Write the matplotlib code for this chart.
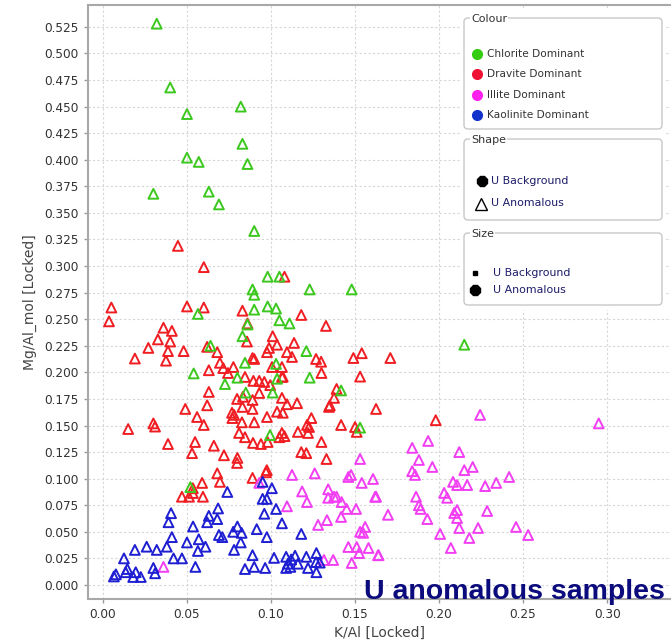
import matplotlib
matplotlib.use("Agg")
import matplotlib.pyplot as plt
import numpy as np
from matplotlib.patches import FancyBboxPatch, Rectangle

# K/Al vs Mg/Al_mol for U anomalous samples, by dominant mineral
chlorite = [
    (0.032, 0.528), (0.040, 0.468), (0.050, 0.443), (0.082, 0.450), (0.050, 0.402),
    (0.057, 0.398), (0.083, 0.415), (0.086, 0.396), (0.030, 0.368), (0.063, 0.370),
    (0.069, 0.358), (0.090, 0.333), (0.098, 0.290), (0.105, 0.290), (0.123, 0.278),
    (0.148, 0.278), (0.089, 0.278), (0.090, 0.273), (0.0565, 0.255), (0.090, 0.259),
    (0.098, 0.262), (0.103, 0.260), (0.105, 0.249), (0.111, 0.246), (0.086, 0.245),
    (0.083, 0.234), (0.064, 0.225), (0.121, 0.220), (0.054, 0.199), (0.0845, 0.209),
    (0.103, 0.208), (0.0726, 0.189), (0.080, 0.195), (0.1036, 0.194), (0.123, 0.195),
    (0.085, 0.181), (0.101, 0.181), (0.1417, 0.183), (0.0994, 0.141), (0.153, 0.148),
    (0.052, 0.092), (0.215, 0.226),
]

dravite = [
    (0.005, 0.261), (0.0036, 0.248), (0.036, 0.242), (0.041, 0.239), (0.050, 0.262),
    (0.060, 0.261), (0.0327, 0.231), (0.040, 0.229), (0.027, 0.223), (0.0387, 0.220),
    (0.048, 0.220), (0.019, 0.213), (0.0375, 0.211), (0.0446, 0.319), (0.060, 0.299),
    (0.083, 0.258), (0.086, 0.246), (0.108, 0.290), (0.118, 0.254), (0.1327, 0.2437),
    (0.062, 0.224), (0.068, 0.219), (0.063, 0.202), (0.0696, 0.209), (0.0716, 0.204),
    (0.0776, 0.205), (0.0857, 0.229), (0.0976, 0.219), (0.101, 0.234), (0.1036, 0.226),
    (0.1095, 0.219), (0.089, 0.2135), (0.0895, 0.192), (0.093, 0.192), (0.096, 0.191),
    (0.0995, 0.188), (0.107, 0.196), (0.1006, 0.205), (0.1065, 0.205), (0.0988, 0.223),
    (0.1137, 0.2277), (0.1125, 0.2145), (0.1268, 0.2126), (0.1298, 0.210), (0.149, 0.2135),
    (0.154, 0.218), (0.171, 0.2135), (0.153, 0.196), (0.130, 0.1994), (0.090, 0.2126),
    (0.0744, 0.1994), (0.0845, 0.1957), (0.1065, 0.1957), (0.063, 0.1816), (0.062, 0.169),
    (0.049, 0.1656), (0.0798, 0.175), (0.0833, 0.177), (0.078, 0.160), (0.083, 0.1675),
    (0.089, 0.174), (0.093, 0.1806), (0.0827, 0.153), (0.077, 0.157), (0.090, 0.153),
    (0.0976, 0.158), (0.1036, 0.163), (0.107, 0.162), (0.056, 0.158), (0.060, 0.1505),
    (0.081, 0.143), (0.0845, 0.139), (0.0893, 0.1336), (0.094, 0.1326), (0.098, 0.1345),
    (0.105, 0.139), (0.0548, 0.1345), (0.053, 0.124), (0.066, 0.131), (0.072, 0.122),
    (0.080, 0.1195), (0.0798, 0.1148), (0.068, 0.105), (0.0696, 0.097), (0.059, 0.096),
    (0.089, 0.1007), (0.097, 0.106), (0.0535, 0.0865), (0.047, 0.083), (0.0512, 0.083),
    (0.0595, 0.083), (0.0535, 0.091), (0.1065, 0.176), (0.1095, 0.170), (0.1155, 0.171),
    (0.1345, 0.1675), (0.1375, 0.176), (0.139, 0.1844), (0.1625, 0.1656), (0.0768, 0.162),
    (0.089, 0.1656), (0.124, 0.157), (0.1214, 0.1505), (0.1417, 0.1505), (0.150, 0.1486),
    (0.116, 0.144), (0.122, 0.143), (0.1065, 0.143), (0.108, 0.140), (0.1226, 0.1486),
    (0.118, 0.125), (0.121, 0.124), (0.130, 0.1345), (0.133, 0.1185), (0.151, 0.144),
    (0.198, 0.155), (0.015, 0.1467), (0.030, 0.152), (0.031, 0.149), (0.0387, 0.1326),
    (0.135, 0.169), (0.0975, 0.108),
]

illite = [
    (0.2244, 0.160), (0.295, 0.152), (0.1935, 0.1355), (0.184, 0.129), (0.188, 0.1176),
    (0.212, 0.125), (0.196, 0.111), (0.184, 0.107), (0.1857, 0.1035), (0.215, 0.108),
    (0.220, 0.111), (0.2417, 0.1016), (0.2083, 0.097), (0.2107, 0.094), (0.2167, 0.094),
    (0.2274, 0.093), (0.234, 0.096), (0.1607, 0.0997), (0.154, 0.096), (0.1625, 0.083),
    (0.1863, 0.083), (0.203, 0.0866), (0.2048, 0.082), (0.188, 0.075), (0.189, 0.0715),
    (0.2107, 0.0705), (0.209, 0.0677), (0.2107, 0.063), (0.193, 0.062), (0.2286, 0.0696),
    (0.1696, 0.066), (0.156, 0.0546), (0.1548, 0.049), (0.2006, 0.048), (0.212, 0.0536),
    (0.2232, 0.0536), (0.2458, 0.0546), (0.253, 0.047), (0.218, 0.0442), (0.207, 0.0348),
    (0.158, 0.0348), (0.164, 0.028), (0.093, 0.096), (0.1125, 0.1035), (0.126, 0.105),
    (0.1185, 0.088), (0.1214, 0.078), (0.1095, 0.074), (0.134, 0.090), (0.134, 0.082),
    (0.1375, 0.083), (0.139, 0.083), (0.142, 0.078), (0.145, 0.0715), (0.1506, 0.0715),
    (0.1417, 0.064), (0.1476, 0.1035), (0.146, 0.1016), (0.153, 0.1185), (0.162, 0.083),
    (0.128, 0.0565), (0.1333, 0.061), (0.153, 0.050), (0.146, 0.0357), (0.151, 0.0357),
    (0.1524, 0.030), (0.148, 0.0207), (0.1315, 0.0235), (0.137, 0.0235), (0.1637, 0.028),
    (0.036, 0.017),
]

kaolinite = [
    (0.0065, 0.008), (0.0077, 0.010), (0.0125, 0.025), (0.0135, 0.012), (0.0145, 0.015),
    (0.018, 0.0075), (0.0195, 0.012), (0.0225, 0.0075), (0.019, 0.033), (0.026, 0.036),
    (0.032, 0.033), (0.030, 0.016), (0.031, 0.011), (0.038, 0.036), (0.041, 0.045),
    (0.039, 0.059), (0.0405, 0.0675), (0.042, 0.025), (0.047, 0.025), (0.050, 0.040),
    (0.0536, 0.055), (0.055, 0.017), (0.0565, 0.032), (0.057, 0.043), (0.061, 0.036),
    (0.062, 0.059), (0.063, 0.065), (0.068, 0.062), (0.0685, 0.072), (0.069, 0.047),
    (0.071, 0.045), (0.074, 0.0875), (0.078, 0.033), (0.0775, 0.050), (0.080, 0.055),
    (0.0825, 0.049), (0.082, 0.040), (0.0845, 0.015), (0.089, 0.028), (0.090, 0.017),
    (0.0965, 0.016), (0.0915, 0.0525), (0.0975, 0.045), (0.096, 0.067), (0.095, 0.081),
    (0.0975, 0.081), (0.1005, 0.091), (0.095, 0.097), (0.103, 0.0715), (0.1065, 0.058),
    (0.118, 0.048), (0.1018, 0.0255), (0.109, 0.0265), (0.110, 0.020), (0.1115, 0.017),
    (0.109, 0.016), (0.1143, 0.0275), (0.121, 0.0265), (0.127, 0.030), (0.1268, 0.0215),
    (0.122, 0.016), (0.127, 0.012), (0.129, 0.021), (0.112, 0.024), (0.116, 0.020),
]

groups = [
    ("Dravite Dominant", dravite, "#f01e23"),
    ("Chlorite Dominant", chlorite, "#3cc81e"),
    ("Illite Dominant", illite, "#f23ef2"),
    ("Kaolinite Dominant", kaolinite, "#1e1ed2"),
]
legend_colours = [("Chlorite Dominant", "#33cc11"), ("Dravite Dominant", "#ee1133"),
                  ("Illite Dominant", "#ff22ee"), ("Kaolinite Dominant", "#1133cc")]

W, H = 671, 644
fig = plt.figure(figsize=(W / 100, H / 100), dpi=100)
ax = fig.add_axes([88 / W, 1 - 599 / H, (W - 88) / W, (599 - 5) / H])

for name, pts, col in groups:
    p = np.array(pts)
    ax.scatter(p[:, 0], p[:, 1], marker="^", s=50, facecolors="none",
               edgecolors=col, linewidths=1.4, zorder=3)

ax.set_xlim(-0.0089, 0.338)
ax.set_ylim(-0.0132, 0.5456)
ax.set_xticks(np.arange(0, 0.301, 0.05))
ax.set_yticks(np.arange(0, 0.526, 0.025))
ax.xaxis.set_major_formatter(matplotlib.ticker.FormatStrFormatter("%.2f"))
ax.yaxis.set_major_formatter(matplotlib.ticker.FormatStrFormatter("%.3f"))
ax.tick_params(labelsize=8.7, labelcolor="#333333", color="#9a9a9a", length=3, width=1)
ax.grid(True, color="#d6d6d6", linestyle=(0, (2, 2)), linewidth=0.8, zorder=0)
ax.set_axisbelow(True)
for side in ["left", "bottom", "top"]:
    ax.spines[side].set_color("#a8a8a8")
    ax.spines[side].set_linewidth(1.5)
ax.spines["right"].set_visible(False)

ax.set_xlabel("K/Al [Locked]", fontsize=10, color="#444444")
ax.set_ylabel("Mg/Al_mol [Locked]", fontsize=10, color="#444444")
ax.xaxis.label.set_va("center")
ax.yaxis.label.set_va("center")
ax.xaxis.set_label_coords(0.5, -0.057)
ax.yaxis.set_label_coords(-0.0995, 0.5)

# overlay in pixel units for the legend panel and caption
ov = fig.add_axes([0, 0, 1, 1], zorder=5)
ov.set_xlim(0, W)
ov.set_ylim(H, 0)
ov.axis("off")
ov.patch.set_alpha(0)

ov.add_patch(Rectangle((461, 8), 203, 302, facecolor="white", edgecolor="none"))

def group_box(top, bottom, title):
    ov.add_patch(FancyBboxPatch((464, top), 198, bottom - top,
                                boxstyle="round,pad=0,rounding_size=4",
                                facecolor="white", edgecolor="#c8c8c8", linewidth=1))
    ov.text(471, top + 1, title, fontsize=8, color="#333333", va="center", ha="left",
            bbox=dict(facecolor="white", edgecolor="none", pad=0.5))

group_box(18, 129, "Colour")
for i, (label, col) in enumerate(legend_colours):
    yy = 54 + i * 20.3
    ov.plot([477], [yy], marker="o", ms=7, color=col, mec=col)
    ov.text(487, yy, label, fontsize=7.6, color="#333333", va="center", ha="left")

group_box(139, 220, "Shape")
ov.plot([482], [181], marker="8", ms=8.5, color="black")
ov.text(491, 181, "U Background", fontsize=7.9, color="#1c1c6a", va="center", ha="left")
ov.plot([481], [204], marker="^", ms=8, mfc="none", mec="black", mew=1)
ov.text(491, 203, "U Anomalous", fontsize=7.9, color="#1c1c6a", va="center", ha="left")

group_box(233, 305, "Size")
ov.plot([475], [273], marker="s", ms=2.3, color="black")
ov.text(493, 273, "U Background", fontsize=7.9, color="#1c1c6a", va="center", ha="left")
ov.plot([475], [290], marker="8", ms=7.5, color="black")
ov.text(493, 290, "U Anomalous", fontsize=7.9, color="#1c1c6a", va="center", ha="left")

ov.text(665, 599, "U anomalous samples", fontsize=20.5, fontweight="bold", color="#0b0b7d",
        family=["Liberation Sans", "DejaVu Sans"], ha="right", va="baseline")

fig.savefig("out.png", dpi=100)
